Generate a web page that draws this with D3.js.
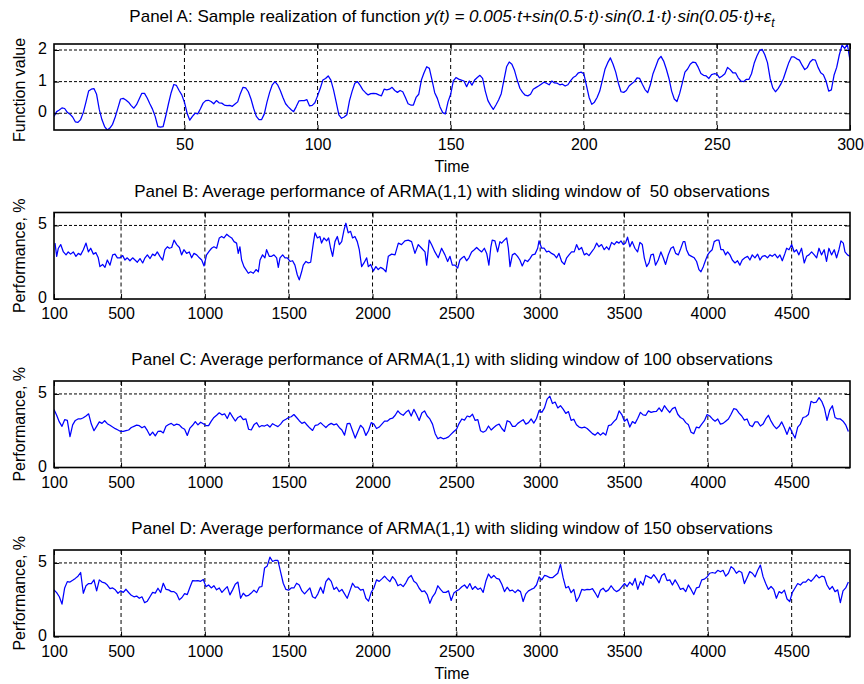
<!DOCTYPE html>
<html><head><meta charset="utf-8">
<script src="https://cdn.jsdelivr.net/npm/d3@7/dist/d3.min.js"></script>
<style>body{margin:0;background:#fff}svg{display:block}text{font-family:"Liberation Sans",Arial,Helvetica,sans-serif;fill:#000}</style>
</head><body>
<svg id="chart" width="864" height="684"></svg>
<script>
// ---------- DATA ----------
const aValues = [
-0.10,0.05,0.10,0.17,0.15,0.03,-0.03,-0.12,-0.27,-0.29,
-0.20,0.02,0.35,0.70,0.76,0.78,0.60,0.12,-0.20,-0.42,
-0.53,-0.47,-0.35,-0.12,0.16,0.45,0.47,0.42,0.35,0.24,
0.16,0.27,0.45,0.63,0.63,0.48,0.30,0.13,-0.10,-0.42,
-0.44,-0.42,-0.08,0.30,0.65,0.91,0.88,0.72,0.58,0.35,
0.00,-0.22,-0.10,0.00,-0.02,0.14,0.32,0.40,0.41,0.37,
0.30,0.40,0.33,0.32,0.26,0.24,0.25,0.22,0.29,0.36,
0.62,0.82,0.80,0.68,0.45,0.15,-0.10,-0.20,-0.20,-0.02,
0.35,0.66,0.90,1.00,0.90,0.72,0.50,0.30,0.20,0.12,
0.05,0.21,0.39,0.40,0.40,0.43,0.23,0.25,0.33,0.55,
0.78,1.05,1.10,1.18,1.05,0.74,0.35,-0.05,-0.16,-0.12,
-0.05,0.40,0.70,0.95,1.00,0.88,0.74,0.65,0.58,0.62,
0.63,0.62,0.58,0.55,0.76,0.74,0.76,0.82,0.72,0.66,
0.72,0.68,0.50,0.30,0.26,0.26,0.50,0.60,1.05,1.28,
1.47,1.42,1.05,0.65,0.47,0.20,0.02,-0.02,0.36,0.60,
1.02,1.13,1.08,1.05,1.02,0.84,1.02,0.89,1.05,1.13,
1.20,1.10,0.70,0.40,0.25,0.12,0.26,0.42,0.62,1.05,
1.47,1.62,1.55,1.35,1.05,0.79,0.66,0.57,0.55,0.60,
0.76,0.81,0.86,0.92,0.98,0.95,0.90,1.02,0.96,0.95,
0.90,0.92,0.86,0.90,1.02,1.13,1.18,1.28,1.30,1.25,
0.88,0.50,0.28,0.35,0.50,0.70,1.05,1.40,1.60,1.75,
1.55,1.30,0.95,0.68,0.66,0.72,0.86,0.93,1.00,1.12,
1.10,0.92,0.75,0.65,0.90,1.25,1.47,1.70,1.80,1.65,
1.40,1.10,0.70,0.45,0.37,0.62,0.95,1.30,1.40,1.55,
1.62,1.60,1.45,1.26,1.20,1.18,1.10,1.22,1.25,1.24,
1.12,1.18,1.25,1.45,1.38,1.28,1.28,1.12,1.02,1.00,
1.07,1.07,1.25,1.58,1.80,1.98,2.02,1.85,1.60,1.10,
0.80,0.68,0.78,0.92,1.10,1.35,1.60,1.78,1.78,1.72,
1.68,1.52,1.38,1.45,1.62,1.70,1.68,1.45,1.28,1.22,
1.02,0.70,0.74,1.20,1.45,1.85,2.15,2.05,2.18,1.68];
const aTime = d3.range(1, aValues.length + 1);

const bTime = [106,116,126,140,156,172,185,199,215,231,245,259,275,291,305,319,335,350,364,374,390,404,418,434,450,464,478,494,510,523,537,553,569,583,597,613,629,643,657,673,688,702,716,732,748,762,776,788,802,816,832,848,861,875,891,907,921,935,951,967,981,995,1010,1026,1040,1054,1070,1086,1100,1114,1130,1146,1160,1174,1189,1199,1209,1219,1233,1245,1259,1273,1289,1305,1319,1329,1344,1358,1368,1384,1398,1412,1428,1438,1448,1464,1478,1492,1508,1523,1537,1551,1563,1577,1587,1603,1617,1631,1647,1657,1671,1686,1696,1710,1726,1738,1750,1762,1776,1790,1802,1816,1830,1841,1855,1869,1881,1895,1909,1921,1935,1949,1965,1975,1989,2005,2020,2034,2048,2064,2080,2094,2114,2134,2154,2173,2193,2213,2233,2253,2273,2293,2313,2323,2338,2352,2372,2392,2412,
2432,2448,2462,2476,2492,2508,2521,2535,2547,2561,2575,2591,2607,2621,2635,2651,2667,2681,2694,2706,2714,2730,2746,2760,2770,2786,2800,2810,2820,2834,2849,2865,2879,2893,2909,2925,2939,2953,2969,2985,2993,3009,3024,3038,3052,3068,3084,3098,3112,3128,3144,3158,3172,3187,3203,3217,3231,3247,3263,3277,3291,3307,3323,3337,3350,3366,3382,3396,3410,3426,3442,3456,3470,3482,3496,3509,3521,3535,3549,3565,3581,3595,3609,3621,3635,3649,3661,3675,3688,3704,3720,3734,3748,3764,3780,3794,3808,3824,3839,3853,3863,3873,3887,3903,3919,3933,3947,3959,3973,3987,3999,4012,4026,4038,4052,4066,4078,4092,4106,4118,4132,4146,4162,4177,4191,4205,4221,4237,4251,4265,4281,4297,4311,4325,4340,4356,4370,4384,4400,4416,4430,4444,4460,4470,4484,4500,4515,4529,4543,4559,4575,4589,4603,4619,4635,4649,4663,4678,4694,4708,4722,4738,4754,4768,4782,4794,4808,4818,4833,4847];
const bValues = [3.8,2.9,3.45,3.7,3.2,3.0,3.2,3.05,3.2,2.9,3.1,3.0,3.35,3.8,3.2,3.45,3.05,3.15,2.8,2.2,2.35,2.15,2.65,2.3,3.0,3.05,2.8,2.8,2.95,2.65,2.8,2.6,2.8,2.65,2.5,2.75,2.45,2.8,3.0,2.75,3.05,2.95,3.2,2.9,2.65,3.35,3.55,3.45,3.5,4.0,3.7,3.5,3.0,3.35,3.1,3.2,2.8,3.1,3.0,2.8,2.65,2.25,3.0,3.25,3.45,3.55,3.45,4.15,4.25,4.15,4.4,4.25,4.15,3.9,3.8,3.1,3.55,2.65,2.2,2.0,1.75,1.85,1.75,2.0,1.85,2.65,3.0,2.8,3.35,2.9,2.9,3.0,2.8,2.15,2.8,3.0,2.8,2.8,2.55,2.6,2.3,1.65,1.3,1.85,2.3,2.55,2.45,2.5,3.8,4.5,4.15,4.25,3.8,4.15,3.95,4.15,3.45,2.9,3.9,4.25,3.7,3.9,4.7,5.15,4.5,4.6,4.15,4.25,3.9,3.35,2.2,2.45,2.8,2.2,2.35,1.9,2.2,2.0,2.15,2.05,1.85,2.9,3.05,3.0,3.8,3.7,3.95,4.0,3.9,3.1,3.7,3.45,3.2,2.3,4.0,3.7,3.2,2.8,3.45,
3.0,2.55,2.9,2.3,2.3,2.1,2.65,2.8,2.9,2.6,2.8,3.2,3.35,3.5,3.35,3.2,3.45,3.1,2.3,3.55,4.0,3.95,3.2,3.9,3.8,4.0,4.15,3.45,2.2,3.0,3.1,2.9,2.65,2.25,2.65,2.55,2.75,3.0,3.05,3.45,3.95,3.45,3.45,3.2,3.25,3.1,3.0,2.8,3.1,2.55,2.35,2.8,3.0,3.2,3.2,3.7,3.35,3.5,3.0,3.1,2.95,3.2,3.45,3.8,3.55,3.7,3.35,3.55,3.35,3.85,3.7,3.9,3.8,3.95,3.7,3.8,4.2,3.55,3.9,3.45,3.2,3.85,3.7,2.8,2.2,2.45,3.0,3.05,2.3,2.65,3.2,2.8,2.35,3.0,3.45,3.55,3.1,3.0,3.45,3.9,3.9,3.35,3.0,2.9,2.8,2.55,2.0,1.85,2.2,2.65,3.0,3.2,3.35,3.9,4.0,4.0,3.35,3.35,3.0,3.2,3.0,2.65,2.45,2.6,2.3,2.65,2.8,2.9,2.65,3.0,2.8,3.05,2.65,2.9,2.95,2.8,3.0,2.9,3.05,2.8,3.0,2.6,3.1,3.45,3.35,3.7,3.2,3.35,3.0,3.45,2.45,2.9,3.0,3.2,3.0,2.8,3.45,3.0,3.35,2.55,3.45,3.0,3.35,2.8,3.35,3.95,3.8,3.2,3.0,2.9];

// Panels C and D: regular sampling from time 100 with step 15.9
const cdTimeStart = 100, cdTimeStep = 15.9;
const cValues = [3.95,3.55,3.1,2.8,3.25,3.2,2.1,2.9,3.2,3.3,
3.3,3.38,3.5,3.65,2.95,2.5,2.8,3.1,3.0,3.18,
2.98,2.87,2.75,2.64,2.55,2.45,2.45,2.5,2.55,2.72,
2.8,2.88,2.84,2.7,2.8,2.52,2.18,2.41,2.15,2.45,
2.48,2.35,2.8,2.92,3.0,2.85,2.95,2.9,2.7,2.6,
2.18,2.68,2.87,3.12,2.9,3.08,2.97,2.85,2.85,3.15,
3.4,3.55,3.72,3.58,3.65,3.33,3.74,3.44,3.16,3.4,
3.5,3.25,3.3,2.6,2.55,2.9,3.05,2.75,2.85,2.82,
2.91,2.75,2.98,2.87,2.78,2.95,3.18,3.28,3.4,3.45,
3.6,3.4,3.18,3.0,3.08,2.87,2.68,2.52,2.87,2.9,
3.05,2.88,2.72,2.9,3.0,2.9,2.96,2.72,2.55,2.2,
2.98,3.0,2.5,2.0,2.45,2.87,2.68,2.18,2.5,3.05,
2.95,2.65,2.75,2.95,3.15,3.15,3.3,3.35,3.55,3.85,
3.65,3.55,3.75,3.9,3.5,3.95,3.6,3.2,3.7,3.85,
3.5,3.3,2.95,2.3,1.95,2.05,1.95,2.0,2.08,2.27,
2.45,2.6,3.0,3.3,3.22,3.5,3.44,3.62,3.2,3.25,
2.5,2.4,2.5,2.82,2.55,2.72,2.87,2.95,2.65,2.45,
3.18,3.1,2.8,2.8,3.0,3.12,3.25,2.95,3.05,3.3,
3.02,3.33,3.88,3.75,4.05,4.65,4.85,4.35,4.45,4.05,
4.2,3.97,3.68,3.8,3.2,3.28,2.9,2.75,2.7,2.75,
2.65,2.48,2.3,2.2,2.38,2.2,2.36,2.2,2.85,2.9,
3.12,3.3,3.85,3.6,3.15,3.3,2.75,3.12,3.0,3.35,
3.75,3.58,3.55,3.85,3.75,3.8,3.82,4.05,3.8,4.2,
3.95,3.74,4.0,4.1,3.62,3.4,3.3,3.05,2.9,2.4,
2.3,2.75,2.7,2.95,3.18,3.6,3.5,3.3,3.15,3.3,
2.95,3.0,3.15,3.3,3.62,4.0,3.95,3.7,3.5,3.22,
3.3,2.87,2.78,3.1,3.1,2.82,2.95,3.3,3.55,3.15,
2.85,2.64,2.8,3.1,2.7,2.25,2.75,2.35,2.0,2.75,
2.95,3.4,3.45,3.6,4.5,4.4,4.45,4.75,4.5,4.05,
3.2,3.9,4.2,3.4,3.3,3.3,3.15,2.9,2.45];
const dValues = [3.17,2.98,2.7,2.2,3.3,3.73,3.7,3.82,3.95,4.1,
4.35,2.94,3.45,3.6,3.6,3.85,3.1,3.85,3.7,3.65,
3.5,3.25,3.3,3.17,2.94,3.1,3.0,3.21,2.99,2.8,
2.7,2.75,2.6,2.7,2.3,2.4,2.7,3.0,2.95,3.28,
2.99,3.62,3.21,3.17,3.05,3.05,2.9,2.49,2.65,2.92,
2.85,3.35,3.8,3.78,3.8,3.75,3.88,3.39,3.5,3.3,
3.45,3.17,3.3,3.0,3.2,3.39,2.83,3.17,3.55,3.7,
2.6,2.94,2.75,2.8,2.95,3.15,2.98,3.35,3.4,4.66,
4.8,5.4,5.1,5.18,5.18,4.4,3.62,3.2,3.15,3.3,
3.3,3.62,3.5,3.1,2.9,3.1,3.3,2.7,2.6,2.9,
3.35,2.94,3.73,3.96,3.75,3.2,3.35,3.05,3.2,2.9,
2.6,3.1,3.62,3.35,3.35,3.15,3.2,2.6,2.4,3.0,
3.3,3.85,3.75,3.92,4.1,3.9,3.73,4.07,3.85,3.45,
3.55,3.39,3.65,4.0,4.15,3.75,3.62,3.28,3.05,3.1,
2.85,2.26,2.7,2.95,3.45,3.2,3.0,3.0,3.1,2.45,
2.95,3.1,3.2,3.38,3.5,3.28,3.6,3.2,3.4,3.2,
3.3,3.0,3.75,4.25,3.98,4.15,3.95,3.9,3.55,3.05,
3.35,3.1,3.15,2.98,3.17,3.05,2.38,2.9,3.1,3.2,
3.28,3.5,4.05,3.85,4.15,4.1,4.0,4.0,4.15,4.3,
4.9,4.0,3.3,3.4,2.98,3.2,2.38,2.7,3.2,3.15,
3.2,3.18,3.25,2.97,2.65,3.15,3.28,3.05,3.17,3.45,
3.2,3.05,3.15,3.38,3.6,3.4,3.7,3.5,3.95,3.2,
3.75,3.5,4.15,4.05,3.95,4.2,3.95,3.65,4.15,4.28,
3.8,3.85,3.5,3.85,3.55,3.2,3.28,3.05,3.5,3.2,
2.85,3.3,3.35,3.85,3.9,4.05,4.3,4.35,4.3,4.5,
4.4,4.5,4.1,4.3,4.75,4.6,4.3,4.45,4.35,3.6,
4.0,4.41,4.3,4.05,4.5,4.85,4.07,3.6,3.2,3.4,
3.2,2.6,3.05,2.95,3.15,2.55,2.38,3.0,3.3,3.6,
3.5,3.7,3.7,3.9,3.75,3.95,4.19,3.98,4.1,4.05,
3.5,3.2,3.4,3.05,3.17,2.3,3.1,3.3,3.7];
const cTime = d3.range(cValues.length).map(i => cdTimeStart + i * cdTimeStep);
const dTime = d3.range(dValues.length).map(i => cdTimeStart + i * cdTimeStep);

const xTicksA = [50, 100, 150, 200, 250, 300];
const yTicksA = [0, 1, 2];
const xTicksPerf = [100, 500, 1000, 1500, 2000, 2500, 3000, 3500, 4000, 4500];
const yTicksPerf = [0, 5];
const titlesBCD = [
  "Panel B: Average performance of ARMA(1,1) with sliding window of\u00a0 50 observations",
  "Panel C: Average performance of ARMA(1,1) with sliding window of 100 observations",
  "Panel D: Average performance of ARMA(1,1) with sliding window of 150 observations"
];

// ---------- DRAW ----------
const svg = d3.select("#chart");
const L = 54, R = 850;

function panel(o) {
  const x = d3.scaleLinear().domain(o.xDomain).range([L, R]);
  const y = d3.scaleLinear().domain(o.yDomain).range([o.top + o.h, o.top]);
  const g = svg.append("g");
  const id = "clip" + o.id;
  svg.append("clipPath").attr("id", id).append("rect")
    .attr("x", L).attr("y", o.top).attr("width", R - L).attr("height", o.h);

  // grid
  g.selectAll("line.vg").data(o.xTicks.filter(t => t > o.xDomain[0] + 1e-9 && t < o.xDomain[1] - 1e-9)).join("line")
    .attr("x1", d => x(d)).attr("x2", d => x(d)).attr("y1", o.top).attr("y2", o.top + o.h)
    .attr("stroke", "#000").attr("stroke-width", 1).attr("stroke-dasharray", "4,3");
  g.selectAll("line.hg").data(o.yTicks.filter(t => t > o.yDomain[0] && t < o.yDomain[1])).join("line")
    .attr("x1", L).attr("x2", R).attr("y1", d => y(d)).attr("y2", d => y(d))
    .attr("stroke", "#000").attr("stroke-width", 1).attr("stroke-dasharray", "3,2");

  // series
  const line = d3.line().x(d => x(d[0])).y(d => y(d[1]));
  g.append("path").datum(d3.zip(o.time, o.values))
    .attr("clip-path", `url(#${id})`)
    .attr("fill", "none").attr("stroke", "#0000ff").attr("stroke-width", 1.25)
    .attr("stroke-linejoin", "round").attr("d", line);

  // axes
  const fmt = d3.format("d");
  const ax = (gen, tr) => {
    const a = g.append("g").attr("transform", tr).call(gen);
    a.select(".domain").remove();
    a.selectAll("text").style("font-size", "16px").style("font-family", '"Liberation Sans",Arial,sans-serif').attr("fill", "#000");
    a.selectAll("line").attr("stroke", "#000");
    return a;
  };
  ax(d3.axisBottom(x).tickValues(o.xTicks).tickFormat(fmt).tickSizeInner(-5).tickSizeOuter(0).tickPadding(9), `translate(0,${o.top + o.h})`);
  ax(d3.axisTop(x).tickValues(o.xTicks).tickFormat("").tickSizeInner(-5).tickSizeOuter(0), `translate(0,${o.top})`);
  const yl = ax(d3.axisLeft(y).tickValues(o.yTicks).tickFormat(fmt).tickSizeInner(-5).tickSizeOuter(0).tickPadding(7), `translate(${L},0)`);
  yl.selectAll("text").attr("dy", "0.22em");
  ax(d3.axisRight(y).tickValues(o.yTicks).tickFormat("").tickSizeInner(-5).tickSizeOuter(0), `translate(${R},0)`);

  // box
  g.append("rect").attr("x", L).attr("y", o.top).attr("width", R - L).attr("height", o.h)
    .attr("fill", "none").attr("stroke", "#000").attr("stroke-width", 1.6);

  // y label
  g.append("text").attr("transform", `translate(${o.ylabX},${o.top + o.h / 2 + o.ylabDy}) rotate(-90)`)
    .attr("text-anchor", "middle").style("font-size", "16px").text(o.ylabel);

  // x label
  if (o.xlabel) {
    g.append("text").attr("x", (L + R) / 2).attr("y", o.top + o.h + 42)
      .attr("text-anchor", "middle").style("font-size", "16px").text(o.xlabel);
  }
  // title
  const t = g.append("text").attr("x", (L + R) / 2).attr("y", o.titleY)
    .attr("text-anchor", "middle").style("font-size", "17px");
  o.title(t);
}

panel({id: "A", top: 44, h: 86, xDomain: [1, 300], yDomain: [-0.53, 2.19],
  xTicks: xTicksA, yTicks: yTicksA, time: aTime, values: aValues,
  ylabel: "Function value", ylabX: 25, ylabDy: 3, xlabel: "Time", titleY: 22,
  title: t => {
    t.append("tspan").text("Panel A: Sample realization of function ");
    t.append("tspan").style("font-style", "italic").text("y(t) = 0.005\u00b7t+sin(0.5\u00b7t)\u00b7sin(0.1\u00b7t)\u00b7sin(0.05\u00b7t)+\u03b5");
    t.append("tspan").style("font-style", "italic").style("font-size", "12px").attr("dy", 5).text("t");
  }});

const perfTops = [212.5, 381, 550];
const perfData = [[bTime, bValues], [cTime, cValues], [dTime, dValues]];
perfTops.forEach((top, i) => {
  panel({id: "P" + i, top: top, h: 86.5, xDomain: [100, 4848], yDomain: [0, 5.88],
    xTicks: xTicksPerf, yTicks: yTicksPerf, time: perfData[i][0], values: perfData[i][1],
    ylabel: "Performance, %", ylabX: 25, ylabDy: 0, xlabel: i === 2 ? "Time" : null, titleY: top - 16,
    title: t => t.text(titlesBCD[i])});
});
</script>
</body></html>
